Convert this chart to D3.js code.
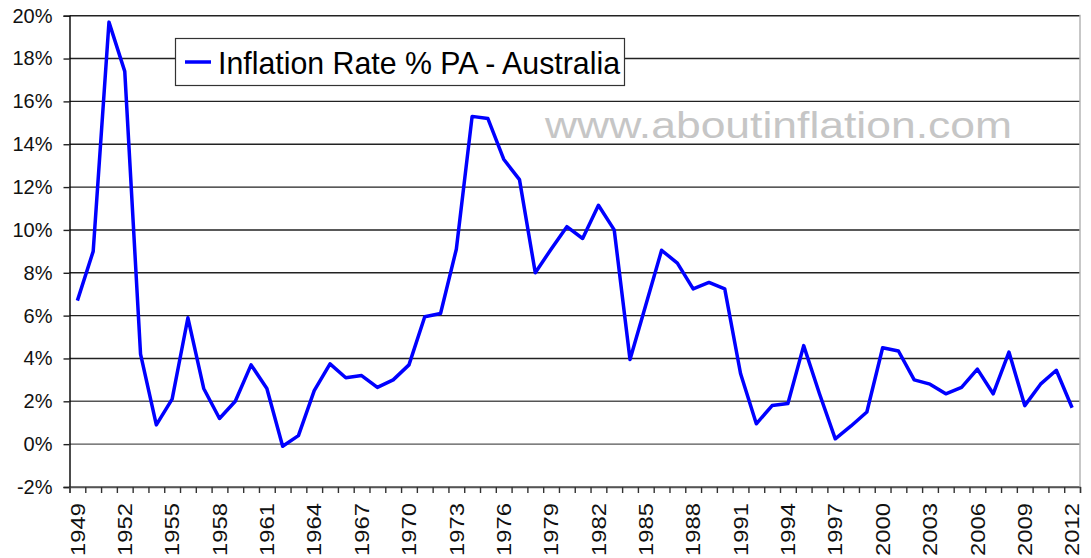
<!DOCTYPE html>
<html>
<head>
<meta charset="utf-8">
<script src="https://cdn.jsdelivr.net/npm/d3@7"></script>
<style>
body{margin:0;background:#fff;}
text{font-family:Arial,"Liberation Sans",sans-serif;}
</style>
</head>
<body>
<svg></svg>
<script>
// years along the bottom
var years = d3.range(1949, 2013)

// annual inflation %
var inflation = [6.7, 9.0, 19.7, 17.4, 4.2, 0.9, 2.1, 5.9, 2.6, 1.2,
                 2.0, 3.7, 2.6, -0.1, 0.4, 2.5, 3.75, 3.1, 3.2, 2.65,
                 3.0, 3.7, 5.95, 6.1, 9.1, 15.3, 15.2, 13.3, 12.35, 8.0,
                 9.1, 10.15, 9.6, 11.15, 10.0, 3.95, 6.5, 9.05, 8.45, 7.25,
                 7.55, 7.25, 3.3, 0.95, 1.8, 1.9, 4.6, 2.35, 0.25, 0.85,
                 1.5, 4.5, 4.35, 3.0, 2.8, 2.35, 2.65, 3.5, 2.35, 4.3,
                 1.8, 2.8, 3.45, 1.7]

var yTicks = d3.range(-2, 21, 2)
var labelYears = d3.range(1949, 2013, 3)

var seriesName = "Inflation Rate % PA - Australia"
var watermark = "www.aboutinflation.com"

var screen = {width:1091,height:558}
var plot = {left:69.5,right:1080,top:15.7,bottom:487}

var svg = d3.select("svg")
    .attr("width",screen.width)
    .attr("height",screen.height)

var xScale = d3.scaleBand()
    .domain(years)
    .range([plot.left,plot.right])
    .paddingInner(0)
    .paddingOuter(0)

// edges of the categories, for the tick marks
var xEdge = d3.scaleLinear()
    .domain([0,years.length])
    .range([plot.left,plot.right])

var yScale = d3.scaleLinear()
    .domain([-2,20])
    .range([plot.bottom,plot.top])

// grid
svg.append("g")
    .selectAll("line")
    .data(yTicks)
    .enter()
    .append("line")
    .attr("x1",plot.left)
    .attr("x2",plot.right)
    .attr("y1",function(d){return yScale(d)})
    .attr("y2",function(d){return yScale(d)})
    .attr("stroke",function(d){return d<=2 ? "#555" : "#222"})
    .attr("stroke-width",1.4)

// right edge of plot area
svg.append("line")
    .attr("x1",plot.right).attr("x2",plot.right)
    .attr("y1",plot.top-1).attr("y2",plot.bottom)
    .attr("stroke","#b4b4b4")
    .attr("stroke-width",1.5)

// y axis
var yAxis = d3.axisLeft(yScale)
    .tickValues(yTicks)
    .tickSize(6)
    .tickFormat(function(d){return d+"%"})

var yg = svg.append("g")
    .attr("transform","translate("+plot.left+",0)")
    .call(yAxis)
yg.select(".domain").attr("stroke","#000").attr("stroke-width",1.4)
yg.selectAll(".tick line").attr("stroke","#222").attr("stroke-width",1.4)
yg.selectAll(".tick text")
    .attr("x",-17)
    .attr("fill","#111")
    .style("font-size","20px")

// x axis, ticks between categories
var xAxis = d3.axisBottom(xEdge)
    .tickValues(d3.range(0,years.length+1))
    .tickSize(6)
    .tickFormat("")

var xg = svg.append("g")
    .attr("transform","translate(0,"+plot.bottom+")")
    .call(xAxis)
xg.select(".domain").attr("stroke","#555").attr("stroke-width",1.4)
xg.selectAll(".tick line").attr("stroke","#333").attr("stroke-width",1.4)

svg.append("g")
    .selectAll("text")
    .data(labelYears)
    .enter()
    .append("text")
    .attr("transform",function(d){
        return "translate("+(xScale(d)+xScale.bandwidth()/2)+",503) rotate(-90)"
    })
    .attr("dy","0.36em")
    .attr("text-anchor","end")
    .attr("textLength",53)
    .attr("lengthAdjust","spacingAndGlyphs")
    .attr("fill","#111")
    .style("font-size","20px")
    .text(function(d){return d})

// watermark
svg.append("text")
    .attr("x",545)
    .attr("y",138)
    .attr("textLength",467)
    .attr("lengthAdjust","spacingAndGlyphs")
    .attr("fill","#c6c6c6")
    .style("font-size","37px")
    .text(watermark)

// the series
var line = d3.line()
    .x(function(d,i){return xScale(years[i])+xScale.bandwidth()/2})
    .y(function(d){return yScale(d)})

svg.append("path")
    .datum(inflation)
    .attr("d",line)
    .attr("fill","none")
    .attr("stroke","#0000ff")
    .attr("stroke-width",3.5)
    .attr("stroke-linejoin","round")

// legend
var legend = svg.append("g")
legend.append("rect")
    .attr("x",175.5)
    .attr("y",38.5)
    .attr("width",449)
    .attr("height",47)
    .attr("fill","#fff")
    .attr("stroke","#333")
    .attr("stroke-width",1.2)
legend.append("line")
    .attr("x1",185).attr("x2",211)
    .attr("y1",62).attr("y2",62)
    .attr("stroke","#0000ff")
    .attr("stroke-width",3.5)
legend.append("text")
    .attr("x",218)
    .attr("y",74)
    .attr("textLength",402)
    .attr("lengthAdjust","spacingAndGlyphs")
    .attr("fill","#000")
    .style("font-size","32px")
    .text(seriesName)
</script>
</body>
</html>
